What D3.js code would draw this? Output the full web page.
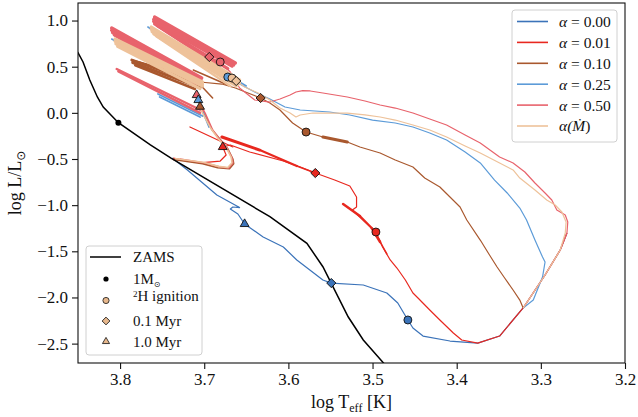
<!DOCTYPE html>
<html>
<head>
<meta charset="utf-8">
<script src="https://cdn.jsdelivr.net/npm/d3@7"></script>
<style>
  body { margin: 0; background: #fff; }
  svg text { font-family: "Liberation Serif", "DejaVu Serif", serif; fill: #111; }
</style>
</head>
<body>
<svg id="chart" width="638" height="417"></svg>
<script>
// ---- data (log Teff, log L/Lsun) ----
const xTicks = [3.8, 3.7, 3.6, 3.5, 3.4, 3.3, 3.2];
const yTicks = [1.0, 0.5, 0.0, -0.5, -1.0, -1.5, -2.0, -2.5];

const alphaKeys = ["0.00", "0.01", "0.10", "0.25", "0.50", "mdot"];
const alphaLabels = ["0.00", "0.01", "0.10", "0.25", "0.50", null];
const alphaColours = ["#3b73b9", "#e8281f", "#a9582e", "#5c9bd8", "#e8636c", "#eec29a"];

const zams = [[3.86,0.75],[3.850,0.652],[3.844,0.551],[3.836,0.356],[3.827,0.172],[3.820,0.063],[3.802,-0.107],
  [3.764,-0.348],[3.739,-0.493],[3.622,-1.125],[3.578,-1.413],[3.559,-1.667],[3.549,-1.847],
  [3.529,-2.209],[3.511,-2.461],[3.486,-2.72]];
const oneMsun = [3.802, -0.107];

const track000 = [[3.269,-1.302],[3.277,-1.486],[3.295,-1.757],[3.321,-2.114],[3.349,-2.418],[3.375,-2.494],
  [3.408,-2.472],[3.440,-2.418],[3.452,-2.331],[3.458,-2.244],[3.470,-2.060],[3.483,-1.952],[3.511,-1.865],
  [3.549,-1.844],[3.559,-1.811],[3.590,-1.594],[3.606,-1.453],[3.630,-1.345],[3.652,-1.204],[3.660,-1.096],
  [3.669,-1.042],[3.666,-1.020],[3.658,-1.026],[3.685,-0.890],[3.720,-0.619],[3.738,-0.489]];

const track001 = [[3.269,-1.302],[3.277,-1.486],[3.295,-1.757],[3.321,-2.114],[3.349,-2.418],[3.375,-2.494],
  [3.394,-2.461],[3.404,-2.385],[3.420,-2.244],[3.432,-2.136],[3.446,-2.006],[3.452,-1.952],[3.461,-1.811],
  [3.471,-1.681],[3.479,-1.594],[3.488,-1.453],[3.496,-1.291],[3.509,-1.183],[3.524,-1.053],[3.519,-1.020],
  [3.519,-0.912],[3.527,-0.793],[3.545,-0.728],[3.568,-0.652],[3.586,-0.587],[3.606,-0.522],[3.646,-0.424],
  [3.669,-0.348],[3.678,-0.370],[3.674,-0.457],[3.681,-0.522],[3.705,-0.543],[3.737,-0.489]];

const track010 = [[3.321,-2.114],[3.325,-2.028],[3.333,-1.919],[3.343,-1.789],[3.352,-1.670],[3.361,-1.540],
  [3.372,-1.378],[3.388,-1.161],[3.396,-1.020],[3.408,-0.912],[3.420,-0.803],[3.438,-0.706],[3.452,-0.587],
  [3.473,-0.511],[3.491,-0.435],[3.515,-0.370],[3.530,-0.316],[3.559,-0.262],[3.579,-0.208],[3.595,-0.110],
  [3.610,0.031],[3.622,0.107],[3.633,0.161],[3.648,0.215],[3.663,0.269],[3.679,0.312],[3.705,0.334],
  [3.741,0.464],[3.785,0.572]];

const track025 = [[3.321,-2.114],[3.309,-2.028],[3.298,-1.779],[3.295,-1.616],[3.298,-1.562],[3.307,-1.378],
  [3.317,-1.161],[3.325,-1.031],[3.340,-0.868],[3.355,-0.728],[3.372,-0.543],[3.390,-0.424],[3.412,-0.294],
  [3.432,-0.218],[3.452,-0.153],[3.473,-0.110],[3.500,-0.078],[3.527,-0.023],[3.551,0.009],[3.586,0.031],
  [3.604,0.063],[3.622,0.150],[3.640,0.226],[3.658,0.312],[3.672,0.388],[3.693,0.486],[3.729,0.681],[3.764,0.930]];

const track050 = [[3.321,-2.114],[3.295,-1.757],[3.277,-1.486],[3.269,-1.302],[3.268,-1.183],[3.271,-1.107],
  [3.281,-1.053],[3.287,-0.944],[3.295,-0.868],[3.307,-0.760],[3.319,-0.641],[3.333,-0.543],[3.349,-0.478],
  [3.372,-0.327],[3.390,-0.240],[3.412,-0.132],[3.432,-0.067],[3.452,-0.002],[3.473,0.052],[3.491,0.085],
  [3.509,0.128],[3.530,0.172],[3.559,0.215],[3.574,0.237],[3.583,0.240],[3.591,0.226],[3.598,0.193],
  [3.610,0.150],[3.622,0.117],[3.640,0.139],[3.658,0.269],[3.669,0.442],[3.681,0.551],[3.694,0.605],
  [3.717,0.735],[3.759,1.017]];

const trackMdot = [[3.321,-2.114],[3.295,-1.757],[3.277,-1.486],[3.271,-1.302],[3.270,-1.183],[3.275,-1.074],
  [3.283,-0.998],[3.293,-0.944],[3.307,-0.836],[3.325,-0.706],[3.333,-0.619],[3.349,-0.543],[3.372,-0.435],
  [3.390,-0.359],[3.412,-0.262],[3.432,-0.186],[3.452,-0.132],[3.473,-0.078],[3.491,-0.045],[3.509,-0.023],
  [3.530,-0.002],[3.551,-0.002],[3.571,-0.002],[3.586,-0.023],[3.591,-0.045],[3.598,-0.002],[3.610,0.052],
  [3.622,0.139],[3.636,0.215],[3.652,0.280],[3.662,0.345],[3.667,0.377],[3.687,0.464],[3.729,0.681],[3.762,0.919]];

// late tracks after 1 Myr (the hook)
const tail010 = [[3.705,0.067],[3.700,-0.020],[3.691,-0.180],[3.680,-0.300],[3.672,-0.390],[3.666,-0.500],
  [3.665,-0.550],[3.670,-0.605],[3.684,-0.595],[3.702,-0.550],[3.737,-0.505]];
const tail025 = [[3.707,0.139],[3.703,0.040],[3.694,-0.160]];
const tail050 = [[3.709,0.193],[3.705,0.096],[3.699,-0.002],[3.690,-0.186],[3.681,-0.294],[3.673,-0.381],
  [3.667,-0.489],[3.666,-0.543],[3.671,-0.598],[3.681,-0.587],[3.699,-0.543],[3.729,-0.500]];
const tailMdot = [[3.705,0.067],[3.702,-0.002],[3.692,-0.170],[3.683,-0.285],[3.674,-0.375],[3.668,-0.480],
  [3.667,-0.540],[3.672,-0.592],[3.683,-0.580],[3.700,-0.538],[3.735,-0.495]];

// accretion-burst streaks [key, T1, L1, T2, L2, width]
const streaks = [
  ["0.01", 3.717,-0.153, 3.666,-0.370, 1.2],
  ["0.01", 3.679,-0.262, 3.634,-0.403, 3.0],
  ["0.01", 3.634,-0.403, 3.590,-0.576, 2.2],
  ["0.01", 3.590,-0.576, 3.568,-0.652, 1.5],
  ["0.01", 3.535,-0.988, 3.515,-1.118, 2.5],
  ["0.01", 3.515,-1.118, 3.501,-1.248, 2.0],
  ["0.01", 3.501,-1.248, 3.491,-1.399, 2.5],
  ["0.01", 3.491,-1.399, 3.483,-1.529, 1.5],
  ["0.10", 3.559,-0.262, 3.530,-0.316, 3.0],
  ["0.25", 3.767,0.930, 3.650,0.291, 1.5],
  ["0.25", 3.810,0.800, 3.705,0.312, 1.5],
  ["0.25", 3.755,0.204, 3.702,-0.034, 1.8],
  ["0.25", 3.753,0.172, 3.705,-0.045, 1.8],
  ["0.10", 3.786,0.572, 3.703,0.312, 3.0],
  ["0.10", 3.785,0.545, 3.705,0.275, 3.0],
  ["0.10", 3.782,0.515, 3.711,0.258, 2.5],
  ["0.10", 3.713,0.464, 3.672,0.302, 1.5],
  ["0.10", 3.709,0.345, 3.690,0.161, 1.5],
  ["0.50", 3.759,1.038, 3.663,0.540, 3.4],
  ["0.50", 3.760,1.012, 3.665,0.520, 3.4],
  ["0.50", 3.760,0.990, 3.667,0.507, 3.4],
  ["0.50", 3.759,0.965, 3.672,0.480, 3.2],
  ["0.50", 3.756,0.941, 3.687,0.529, 2.5],
  ["0.50", 3.810,0.919, 3.703,0.377, 3.4],
  ["0.50", 3.810,0.895, 3.704,0.355, 3.4],
  ["0.50", 3.809,0.870, 3.706,0.330, 3.2],
  ["0.50", 3.807,0.845, 3.710,0.320, 3.0],
  ["0.50", 3.804,0.475, 3.702,0.020, 2.5],
  ["0.50", 3.802,0.450, 3.705,0.000, 2.5],
  ["mdot", 3.806,0.800, 3.702,0.334, 3.2],
  ["mdot", 3.806,0.775, 3.702,0.310, 3.2],
  ["mdot", 3.805,0.748, 3.702,0.290, 3.2],
  ["mdot", 3.803,0.720, 3.705,0.262, 3.0],
  ["mdot", 3.763,0.930, 3.658,0.356, 3.2],
  ["mdot", 3.763,0.905, 3.658,0.330, 3.2],
  ["mdot", 3.762,0.880, 3.660,0.305, 3.2],
  ["mdot", 3.760,0.855, 3.662,0.290, 3.0],
  ["mdot", 3.757,0.830, 3.669,0.291, 2.5]
];

// markers [key, T, L]
const h2Ignition = [["0.00",3.458,-2.244],["0.01",3.496,-1.291],["0.10",3.579,-0.208],
  ["0.25",3.672,0.388],["0.50",3.681,0.551],["mdot",3.667,0.377]];
const age01Myr = [["0.00",3.549,-1.844],["0.01",3.568,-0.652],["0.10",3.633,0.161],
  ["0.50",3.694,0.605],["mdot",3.662,0.345]];
const age1Myr = [["0.00",3.652,-1.204],["0.01",3.678,-0.370],["0.50",3.709,0.193],
  ["0.25",3.707,0.139],["0.10",3.705,0.067]];

// ---- drawing ----
const plot = { left: 78, right: 625, top: 3, bottom: 363 };
const colour = d3.scaleOrdinal().domain(alphaKeys).range(alphaColours);
const x = d3.scaleLinear().domain([3.85, 3.2]).range([plot.left, plot.right]);
const y = d3.scaleLinear().domain([-2.71, 1.19]).range([plot.bottom, plot.top]);
const line = d3.line().x(d => x(d[0])).y(d => y(d[1]));

const svg = d3.select("#chart");
svg.append("defs").append("clipPath").attr("id", "clip")
  .append("rect")
    .attr("x", plot.left).attr("y", plot.top)
    .attr("width", plot.right - plot.left).attr("height", plot.bottom - plot.top);

const plotG = svg.append("g").attr("clip-path", "url(#clip)");

const mainTracks = [["0.00", track000], ["0.01", track001], ["0.10", track010],
  ["0.25", track025], ["0.50", track050], ["mdot", trackMdot]];
const tailTracks = [["0.10", tail010], ["0.25", tail025], ["0.50", tail050], ["mdot", tailMdot]];

alphaKeys.forEach(key => {
  mainTracks.filter(t => t[0] === key).forEach(t => {
    plotG.append("path").attr("d", line(t[1]))
      .attr("fill", "none").attr("stroke", colour(key))
      .attr("stroke-width", 1.2).attr("stroke-linejoin", "round");
  });
  streaks.filter(s => s[0] === key).forEach(s => {
    plotG.append("path").attr("d", line([[s[1], s[2]], [s[3], s[4]]]))
      .attr("fill", "none").attr("stroke", colour(key))
      .attr("stroke-width", s[5]).attr("stroke-linecap", "round");
  });
  tailTracks.filter(t => t[0] === key).forEach(t => {
    plotG.append("path").attr("d", line(t[1]))
      .attr("fill", "none").attr("stroke", colour(key))
      .attr("stroke-width", 1.6).attr("stroke-linejoin", "round");
  });
});

// ZAMS
plotG.append("path").attr("d", line(zams))
  .attr("fill", "none").attr("stroke", "#000").attr("stroke-width", 1.5);
plotG.append("circle").attr("cx", x(oneMsun[0])).attr("cy", y(oneMsun[1]))
  .attr("r", 3).attr("fill", "#000");

const circleSym = d3.symbol().type(d3.symbolCircle);
const diamondSym = d3.symbol().type(d3.symbolSquare);
const triangleSym = d3.symbol().type(d3.symbolTriangle);

function drawMarkers(list, sym, size, rotate) {
  plotG.selectAll(null).data(list).enter().append("path")
    .attr("d", sym.size(size)())
    .attr("transform", d => `translate(${x(d[1])},${y(d[2])})` + (rotate ? " rotate(45)" : ""))
    .attr("fill", d => colour(d[0]))
    .attr("stroke", "#111").attr("stroke-width", 0.9);
}
drawMarkers(age1Myr, triangleSym, 34, false);
drawMarkers(h2Ignition, circleSym, 50, false);
drawMarkers(age01Myr, diamondSym, 42, true);

// axes
const xAxis = d3.axisBottom(x).tickValues(xTicks).tickFormat(d3.format(".1f")).tickSize(6).tickPadding(4);
const yAxis = d3.axisLeft(y).tickValues(yTicks).tickFormat(d3.format(".1f")).tickSize(6).tickPadding(4);

const gx = svg.append("g").attr("transform", `translate(0,${plot.bottom})`).call(xAxis);
const gy = svg.append("g").attr("transform", `translate(${plot.left},0)`).call(yAxis);
[gx, gy].forEach(g => {
  g.select(".domain").remove();
  g.selectAll(".tick line").attr("stroke", "#111").attr("stroke-width", 1.1);
  g.selectAll(".tick text").attr("font-size", 17).attr("font-family", "Liberation Serif").attr("fill", "#222");
});

svg.append("rect")
  .attr("x", plot.left).attr("y", plot.top)
  .attr("width", plot.right - plot.left).attr("height", plot.bottom - plot.top)
  .attr("fill", "none").attr("stroke", "#111").attr("stroke-width", 1.1);

// axis labels
const xl = svg.append("text").attr("x", (plot.left + plot.right) / 2).attr("y", 408)
  .attr("text-anchor", "middle").attr("font-size", 18);
xl.append("tspan").text("log T");
xl.append("tspan").text("eff").attr("font-size", 12).attr("dy", 4);
xl.append("tspan").text(" [K]").attr("dy", -4);

const yl = svg.append("text")
  .attr("transform", `translate(21,${(plot.top + plot.bottom) / 2}) rotate(-90)`)
  .attr("text-anchor", "middle").attr("font-size", 18);
yl.append("tspan").text("log L/L");
yl.append("tspan").text("⊙").attr("font-size", 12).attr("dy", 4).attr("font-family", "DejaVu Sans");

// legend: alpha values
const leg1 = svg.append("g").attr("transform", "translate(512,10)");
leg1.append("rect").attr("width", 105).attr("height", 132).attr("rx", 3)
  .attr("fill", "#fff").attr("fill-opacity", 0.85).attr("stroke", "#d0d0d0");
alphaKeys.forEach((key, i) => {
  const row = leg1.append("g").attr("transform", `translate(0,${11.5 + i * 20.9})`);
  row.append("line").attr("x1", 5).attr("x2", 36).attr("stroke", colour(key)).attr("stroke-width", 1.6);
  const t = row.append("text").attr("x", 47).attr("dy", "0.35em").attr("font-size", 15.5);
  if (alphaLabels[i] !== null) {
    t.append("tspan").text("α").attr("font-style", "italic");
    t.append("tspan").text(" = " + alphaLabels[i]);
  } else {
    t.append("tspan").text("α(").attr("font-style", "italic");
    t.append("tspan").text("Ṁ").attr("font-style", "italic");
    t.append("tspan").text(")");
  }
});

// legend: markers
const legColour = "#e8b88c";
const leg2 = svg.append("g").attr("transform", "translate(86,246)");
leg2.append("rect").attr("width", 116).attr("height", 109).attr("rx", 3)
  .attr("fill", "#fff").attr("fill-opacity", 0.85).attr("stroke", "#d0d0d0");
const leg2Rows = [11, 33, 54.5, 75, 95.5];
leg2.append("line").attr("x1", 4).attr("x2", 35).attr("y1", leg2Rows[0]).attr("y2", leg2Rows[0])
  .attr("stroke", "#000").attr("stroke-width", 1.5);
leg2.append("circle").attr("cx", 20).attr("cy", leg2Rows[1]).attr("r", 2.6).attr("fill", "#000");
leg2.append("path").attr("d", circleSym.size(30)()).attr("transform", `translate(20,${leg2Rows[2]})`)
  .attr("fill", legColour).attr("stroke", "#111").attr("stroke-width", 0.8);
leg2.append("path").attr("d", diamondSym.size(30)()).attr("transform", `translate(20,${leg2Rows[3]}) rotate(45)`)
  .attr("fill", legColour).attr("stroke", "#111").attr("stroke-width", 0.8);
leg2.append("path").attr("d", triangleSym.size(22)()).attr("transform", `translate(20,${leg2Rows[4]})`)
  .attr("fill", legColour).attr("stroke", "#111").attr("stroke-width", 0.8);

const leg2Text = (i) => leg2.append("text").attr("x", 47).attr("y", leg2Rows[i]).attr("dy", "0.35em").attr("font-size", 15);
leg2Text(0).text("ZAMS");
const t1 = leg2Text(1);
t1.append("tspan").text("1M");
t1.append("tspan").text("⊙").attr("font-size", 8).attr("dy", 2.5).attr("font-family", "DejaVu Sans");
const t2 = leg2Text(2);
t2.append("tspan").text("2").attr("font-size", 9).attr("dy", -4);
t2.append("tspan").text("H ignition").attr("dy", 4);
leg2Text(3).text("0.1 Myr");
leg2Text(4).text("1.0 Myr");
</script>
</body>
</html>
